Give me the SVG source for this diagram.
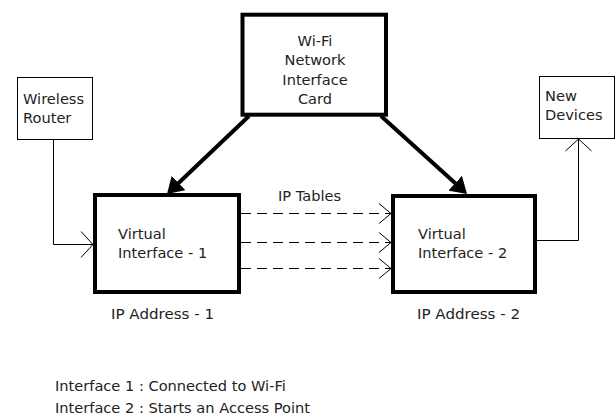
<svg xmlns="http://www.w3.org/2000/svg" width="616" height="416" viewBox="0 0 616 416">
<style>
  text { font-family: "DejaVu Sans", Verdana, sans-serif; font-size: 14.6px; fill: #222; }
  .thick { fill: #fff; stroke: #000; stroke-width: 4; }
  .thin { fill: #fff; stroke: #000; stroke-width: 1; }
  .conn { fill: none; stroke: #000; stroke-width: 1; }
  .dash { fill: none; stroke: #000; stroke-width: 1; stroke-dasharray: 10 6; }
  .bold { fill: none; stroke: #000; stroke-width: 4; }
  .mid { text-anchor: middle; }
</style>
<defs>
  <marker id="headFill" markerUnits="userSpaceOnUse" markerWidth="16" markerHeight="20" viewBox="0 0 16 20" refX="8" refY="10" orient="auto">
    <path d="M0,0 L16,10 L0,20 z" fill="#000"/>
  </marker>
  <marker id="headOpen" markerUnits="userSpaceOnUse" markerWidth="14" markerHeight="28" viewBox="0 0 14 28" refX="13" refY="14" orient="auto">
    <path d="M1,1 L13,14 L1,27" fill="none" stroke="#000" stroke-width="1"/>
  </marker>
  <marker id="headOpenSm" markerUnits="userSpaceOnUse" markerWidth="14" markerHeight="24" viewBox="0 0 14 24" refX="13" refY="12" orient="auto">
    <path d="M1,2 L13,12 L1,22" fill="none" stroke="#000" stroke-width="1"/>
  </marker>
</defs>
<rect width="616" height="416" fill="#fff"/>

<g id="connectors">
  <path class="conn" d="M53.5,139 V244.5 H93" marker-end="url(#headOpen)"/>
  <path class="conn" d="M537,240.5 H578.5 V139" marker-end="url(#headOpen)"/>
  <path class="dash" d="M241,213.5 H391" marker-end="url(#headOpenSm)"/>
  <path class="dash" d="M241,242.5 H391" marker-end="url(#headOpenSm)"/>
  <path class="dash" d="M241,268.5 H391" marker-end="url(#headOpenSm)"/>
  <path class="bold" d="M249,116 L172.8,188.5" marker-end="url(#headFill)"/>
  <path class="bold" d="M381,116 L461.1,188.6" marker-end="url(#headFill)"/>
  <text x="278" y="201">IP Tables</text>
</g>

<g id="wifi-nic">
  <rect class="thick" x="242.5" y="14.7" width="143.5" height="100"/>
  <text class="mid" x="315" y="46">Wi-Fi</text>
  <text class="mid" x="315" y="65">Network</text>
  <text class="mid" x="315" y="85">Interface</text>
  <text class="mid" x="315" y="104">Card</text>
</g>

<g id="wireless-router">
  <rect class="thin" x="17.5" y="77.5" width="75" height="62"/>
  <text x="23" y="104">Wireless</text>
  <text x="23" y="123">Router</text>
</g>

<g id="new-devices">
  <rect class="thin" x="539.5" y="76.5" width="75" height="62"/>
  <text x="545" y="101">New</text>
  <text x="545" y="120">Devices</text>
</g>

<g id="virtual-interface-1">
  <rect class="thick" x="95" y="195" width="144" height="97"/>
  <text x="118" y="239">Virtual</text>
  <text x="118" y="258">Interface - 1</text>
  <text x="111" y="319" textLength="103" lengthAdjust="spacingAndGlyphs">IP Address - 1</text>
</g>

<g id="virtual-interface-2">
  <rect class="thick" x="393" y="196" width="142" height="96"/>
  <text x="418" y="239">Virtual</text>
  <text x="418" y="258">Interface - 2</text>
  <text x="417" y="319" textLength="103" lengthAdjust="spacingAndGlyphs">IP Address - 2</text>
</g>

<g id="notes">
  <text x="55" y="391">Interface 1 : Connected to Wi-Fi</text>
  <text x="55" y="413">Interface 2 : Starts an Access Point</text>
</g>
</svg>
